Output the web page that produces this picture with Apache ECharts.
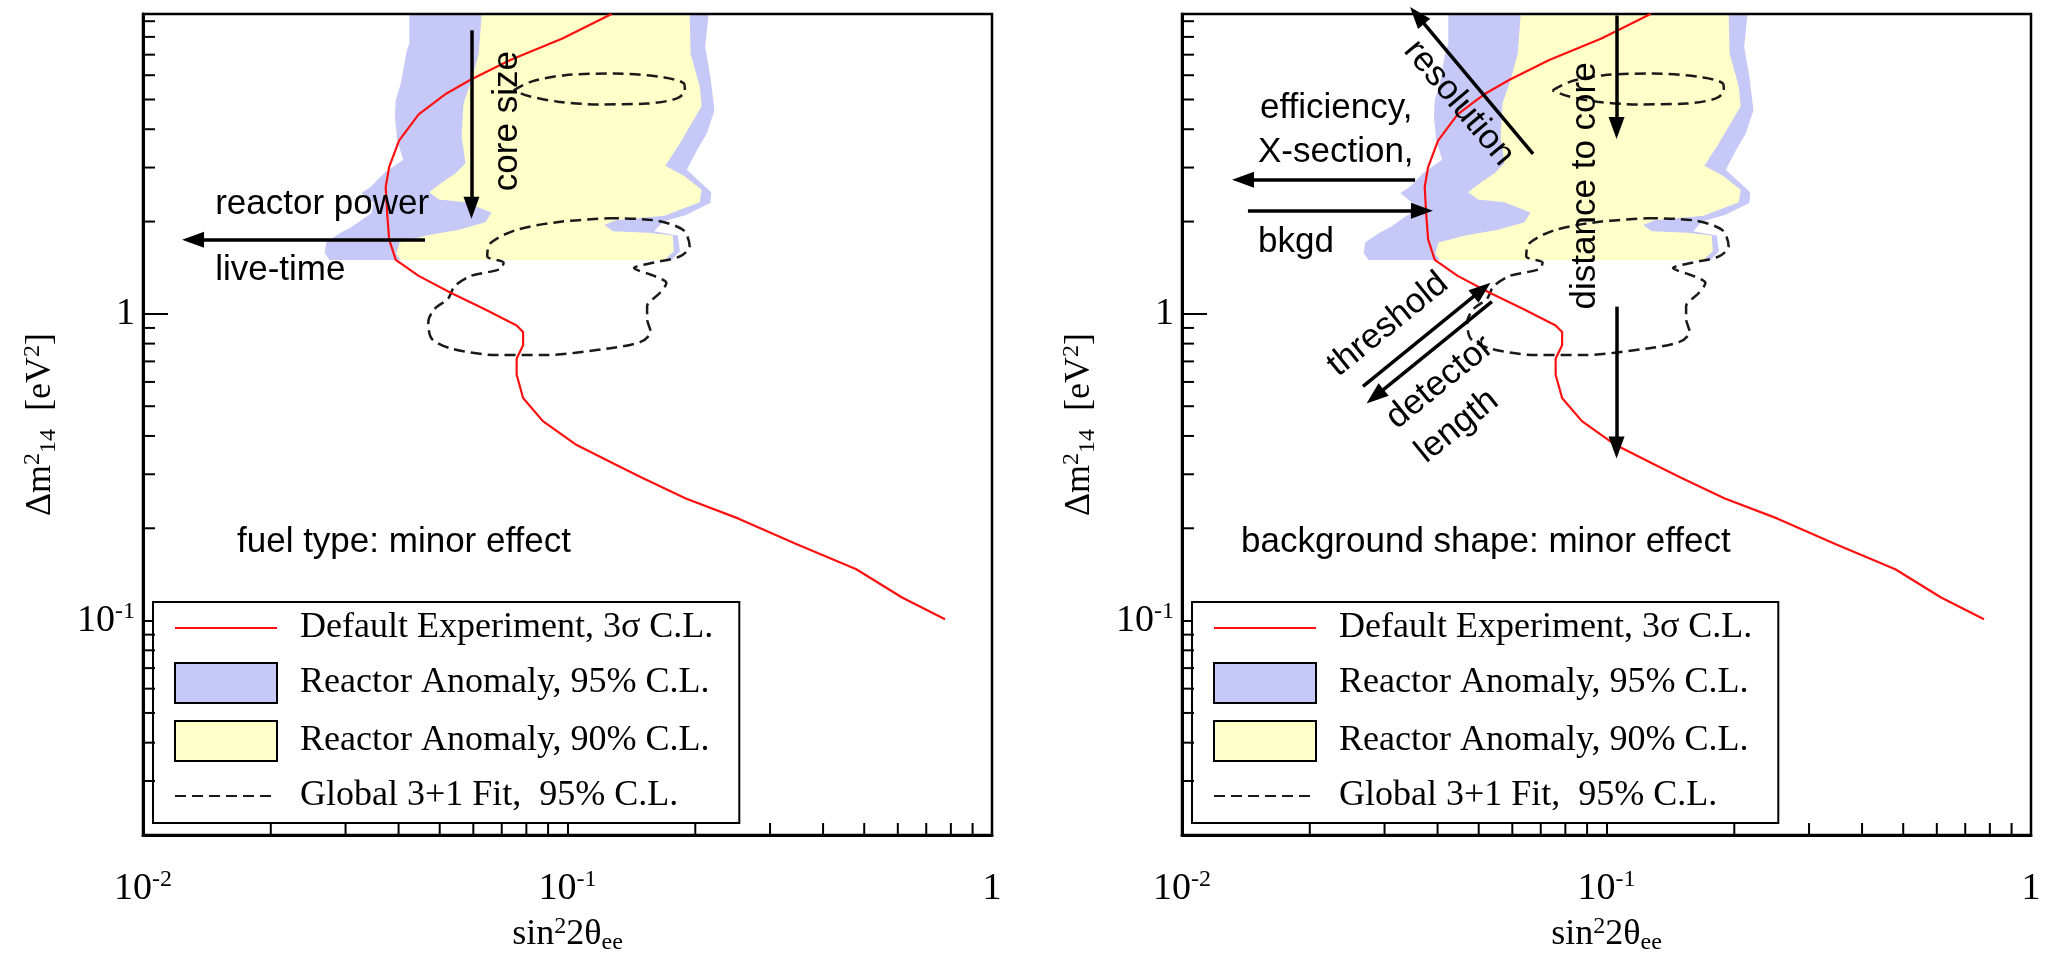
<!DOCTYPE html>
<html><head><meta charset="utf-8">
<script src="https://cdn.jsdelivr.net/npm/echarts@6/dist/echarts.min.js"></script>
<style>html,body{margin:0;padding:0;background:#fff}#c{width:2050px;height:960px}</style>
</head><body><div id="c"></div>
<script>
// ---------------- data ----------------
const X_MIN = 0.01, X_MAX = 1, Y_MIN = 0.02, Y_MAX = 9.5;
const X_MINOR = [0.02,0.03,0.04,0.05,0.06,0.07,0.08,0.09,0.2,0.3,0.4,0.5,0.6,0.7,0.8,0.9];
const Y_MINOR = [0.03,0.04,0.05,0.06,0.07,0.08,0.09,0.2,0.3,0.4,0.5,0.6,0.7,0.8,0.9,2,3,4,5,6,7,8,9];

const LEGEND_NAMES = ['Default Experiment, 3σ C.L.', 'Reactor Anomaly, 95% C.L.', 'Reactor Anomaly, 90% C.L.', 'Global 3+1 Fit,  95% C.L.'];

// Default experiment 3 sigma sensitivity curve [sin^2 2theta, dm^2]
const RED_3SIGMA = [[0.127,9.5],[0.0973,7.9],[0.0733,6.73],[0.0591,5.8],[0.0514,5.19],[0.0446,4.47],[0.0401,3.67],[0.038,3.01],[0.0373,2.59],[0.0376,2.13],[0.038,1.75],[0.0394,1.5],[0.0446,1.33],[0.0532,1.17],[0.0635,1.04],[0.0759,0.917],[0.0786,0.873],[0.0786,0.79],[0.0759,0.716],[0.0759,0.633],[0.0786,0.532],[0.0875,0.447],[0.1043,0.376],[0.129,0.324],[0.1486,0.294],[0.19,0.25],[0.253,0.215],[0.348,0.177],[0.479,0.147],[0.614,0.119],[0.775,0.101]];

// Reactor anomaly 95% C.L. region (outline)
const RA95 = [[0.0424,9.5],[0.0424,7.6],[0.0418,7.2],[0.0405,5.65],[0.0394,4.98],[0.0392,4.4],[0.0397,3.69],[0.041,3.18],[0.037,2.88],[0.0345,2.6],[0.0327,2.48],[0.0349,2.3],[0.0345,2.13],[0.031,1.92],[0.0292,1.84],[0.027,1.71],[0.0268,1.58],[0.0275,1.5],
  [0.176,1.5],[0.184,1.6],[0.182,1.8],[0.16,1.86],[0.168,2.0],[0.19,2.1],[0.217,2.3],[0.218,2.49],[0.191,2.95],[0.202,3.42],[0.213,3.88],[0.222,4.61],[0.217,5.94],[0.211,7.43],[0.215,9.5]];

// Reactor anomaly 90% C.L. region (outline)
const RA90 = [[0.0628,9.5],[0.0618,7.05],[0.0594,5.77],[0.0569,4.86],[0.0563,3.8],[0.0575,3.1],[0.0546,2.88],[0.0506,2.68],[0.0472,2.49],[0.0498,2.36],[0.0575,2.31],[0.0662,2.14],[0.0641,1.99],[0.0555,1.88],[0.0465,1.8],[0.0402,1.71],[0.0395,1.57],[0.0405,1.5],
  [0.169,1.5],[0.178,1.6],[0.177,1.8],[0.155,1.84],[0.128,1.86],[0.122,1.95],[0.13,2.02],[0.169,2.09],[0.205,2.31],[0.207,2.54],[0.188,2.82],[0.17,3.04],[0.184,3.6],[0.207,4.75],[0.205,5.5],[0.195,7.05],[0.194,9.5]];

// Global 3+1 fit 95% C.L. islands
const GLOBAL_UPPER = [[0.0746,5.35],[0.0822,5.72],[0.0986,6.0],[0.129,6.08],[0.169,5.9],[0.188,5.64],[0.189,5.35],[0.181,5.04],[0.154,4.85],[0.118,4.82],[0.095,4.92],[0.081,5.13],[0.0746,5.35]];
const GLOBAL_LOWER = [[0.1245,2.05],[0.1596,2.02],[0.187,1.88],[0.194,1.66],[0.184,1.54],[0.16,1.47],[0.1435,1.41],[0.16,1.33],[0.171,1.26],[0.165,1.17],[0.154,1.06],[0.154,0.963],[0.157,0.873],[0.1486,0.81],[0.1245,0.771],[0.0875,0.734],[0.0683,0.734],[0.0532,0.771],[0.0479,0.83],[0.047,0.94],[0.0487,1.04],[0.0523,1.12],[0.0542,1.23],[0.0592,1.33],[0.0695,1.4],[0.0707,1.47],[0.0647,1.54],[0.0658,1.7],[0.0759,1.88],[0.0973,2.0],[0.1245,2.05]];

// Annotation arrows (data coordinates: from -> to)
const ARROWS = [
  [ [[0.0594,8.41],[0.0594,2.22]], [[0.04616,1.745],[0.01312,1.745]] ],
  [ [[0.06713,3.323],[0.0358,9.4]], [[0.0354,2.735],[0.01392,2.735]], [[0.0143,2.168],[0.03675,2.168]],
    [[0.1056,9.4],[0.1056,4.04]], [[0.1056,1.056],[0.1056,0.367]],
    [[0.02669,0.58],[0.0509,1.2]], [[0.0537,1.096],[0.0285,0.538]] ]
];

// Annotation texts (data coordinates)
const ANNOTATIONS = [
  {panel:0, text:'core size', at:[0.0720,4.25], rot:90, align:'center'},
  {panel:0, text:'reactor power', at:[0.01479,2.268], rot:0, align:'left'},
  {panel:0, text:'live-time', at:[0.01479,1.383], rot:0, align:'left'},
  {panel:0, text:'fuel type: minor effect', at:[0.01665,0.1803], rot:0, align:'left'},
  {panel:1, text:'resolution', at:[0.04493,4.87], rot:-50, align:'center'},
  {panel:1, text:'efficiency,', at:[0.01527,4.69], rot:0, align:'left'},
  {panel:1, text:'X-section,', at:[0.0151,3.373], rot:0, align:'left'},
  {panel:1, text:'bkgd', at:[0.0151,1.706], rot:0, align:'left'},
  {panel:1, text:'distance to core', at:[0.089,2.615], rot:90, align:'center'},
  {panel:1, text:'threshold', at:[0.03056,0.923], rot:39, align:'center'},
  {panel:1, text:'detector', at:[0.0405,0.5977], rot:39, align:'center'},
  {panel:1, text:'length', at:[0.04444,0.43], rot:39, align:'center'},
  {panel:1, text:'background shape: minor effect', at:[0.01377,0.1803], rot:0, align:'left'}
];

// ---------------- styles ----------------
const SERIF = 'Liberation Serif', SANS = 'Liberation Sans';
const C_RED = '#ff1010', C_BLUE = '#c6c9f7', C_YEL = '#ffffc9', C_DASH = '#1a1a1a';
const GRID_LEFT = [143, 1182];
const LEGEND_LEFT = [153, 1192];

function powLabel(v) {
  const e = Math.log10(v), r = Math.round(e);
  if (Math.abs(e - r) > 1e-6) return '';
  if (r === 0) return '1';
  return '10{sup|' + r + '}';
}
const supRich = {
  sup: {fontFamily: SERIF, fontSize: 24, verticalAlign: 'top', color: '#000', lineHeight: 24},
  sub: {fontFamily: SERIF, fontSize: 24, verticalAlign: 'bottom', color: '#000', lineHeight: 24}
};

function polyRender(poly, color) {
  return function (params, api) {
    if (params.dataIndex !== 0) return null;
    const pts = poly.map(p => api.coord(p));
    return {type: 'polygon', shape: {points: pts}, style: {fill: color}, silent: true};
  };
}

const panels = [0, 1];
const series = [];
panels.forEach(p => {
  series.push({type: 'custom', name: LEGEND_NAMES[1], coordinateSystem: 'cartesian2d', xAxisIndex: p, yAxisIndex: p,
    data: RA95, renderItem: polyRender(RA95, C_BLUE), itemStyle: {color: C_BLUE}, clip: true, z: -1, silent: true});
  series.push({type: 'custom', name: LEGEND_NAMES[2], coordinateSystem: 'cartesian2d', xAxisIndex: p, yAxisIndex: p,
    data: RA90, renderItem: polyRender(RA90, C_YEL), itemStyle: {color: C_YEL}, clip: true, z: -1, silent: true});
  [GLOBAL_UPPER, GLOBAL_LOWER].forEach(g => series.push({type: 'line', name: LEGEND_NAMES[3], xAxisIndex: p, yAxisIndex: p,
    data: g, symbol: 'none', smooth: 0.3, lineStyle: {color: C_DASH, width: 2.5, type: [11, 6]}, itemStyle: {color: C_DASH}, z: 3, silent: true}));
  series.push({type: 'line', name: LEGEND_NAMES[0], xAxisIndex: p, yAxisIndex: p, data: RED_3SIGMA, symbol: 'none',
    lineStyle: {color: C_RED, width: 2.2}, itemStyle: {color: C_RED}, z: 4, silent: true,
    markLine: {silent: true, symbol: ['none', 'triangle'], symbolSize: [16, 22], label: {show: false},
      lineStyle: {color: '#000', width: 3.5, type: 'solid'}, itemStyle: {color: '#000'}, emphasis: {disabled: true},
      data: ARROWS[p].map(a => [{coord: a[0]}, {coord: a[1]}])}});
  series.push({type: 'custom', coordinateSystem: 'cartesian2d', xAxisIndex: p, yAxisIndex: p, silent: true, clip: false, z: 6,
    data: X_MINOR.map(v => [v, Y_MIN]),
    renderItem: (params, api) => { const pt = api.coord([api.value(0), api.value(1)]);
      return {type: 'line', shape: {x1: pt[0], y1: pt[1], x2: pt[0], y2: pt[1] - 12}, style: {stroke: '#000', lineWidth: 2}}; }});
  series.push({type: 'custom', coordinateSystem: 'cartesian2d', xAxisIndex: p, yAxisIndex: p, silent: true, clip: false, z: 6,
    data: Y_MINOR.map(v => [X_MIN, v]),
    renderItem: (params, api) => { const pt = api.coord([api.value(0), api.value(1)]);
      return {type: 'line', shape: {x1: pt[0], y1: pt[1], x2: pt[0] + 12, y2: pt[1]}, style: {stroke: '#000', lineWidth: 2}}; }});
});

const option = {
  animation: false,
  backgroundColor: '#fff',
  grid: panels.map(p => ({left: GRID_LEFT[p], top: 14, width: 849, height: 821, show: true,
    borderColor: '#000', borderWidth: 2.5, backgroundColor: 'transparent'})),
  xAxis: panels.map(p => ({type: 'log', logBase: 10, gridIndex: p, min: X_MIN, max: X_MAX,
    axisLine: {lineStyle: {color: '#000', width: 3}},
    axisTick: {inside: true, length: 25, lineStyle: {color: '#000', width: 2}},
    splitLine: {show: false}, minorTick: {show: false},
    axisLabel: {formatter: powLabel, margin: 33, fontFamily: SERIF, fontSize: 38, lineHeight: 42, color: '#000',
      showMinLabel: true, showMaxLabel: true, rich: supRich},
    name: 'sin{sup|2}2θ{sub|ee}', nameLocation: 'middle', nameGap: 70,
    nameTextStyle: {fontFamily: SERIF, fontSize: 36, lineHeight: 40, color: '#000', rich: supRich}})),
  yAxis: panels.map(p => ({type: 'log', logBase: 10, gridIndex: p, min: Y_MIN, max: Y_MAX,
    axisLine: {lineStyle: {color: '#000', width: 3}},
    axisTick: {inside: true, length: 25, lineStyle: {color: '#000', width: 2}},
    splitLine: {show: false}, minorTick: {show: false},
    axisLabel: {formatter: powLabel, margin: 8, fontFamily: SERIF, fontSize: 38, lineHeight: 42, color: '#000',
      showMinLabel: true, showMaxLabel: true, rich: supRich},
    name: 'Δm{sup|2}{sub|14}  [eV{sup|2}]', nameLocation: 'middle', nameGap: 82, nameRotate: 90,
    nameTextStyle: {fontFamily: SERIF, fontSize: 36, lineHeight: 40, color: '#000', rich: supRich}})),
  legend: panels.map(p => ({left: LEGEND_LEFT[p], top: 602, orient: 'vertical', selectedMode: false,
    itemWidth: 102, itemHeight: 40, itemGap: 16, padding: [8, 26, 9, 21],
    borderColor: '#000', borderWidth: 2, backgroundColor: '#fff',
    textStyle: {fontFamily: SERIF, fontSize: 36, color: '#000', padding: [0, 0, 0, 18]},
    data: [
      {name: LEGEND_NAMES[0], itemStyle: {opacity: 0}},
      {name: LEGEND_NAMES[1], icon: 'rect', itemStyle: {color: C_BLUE, borderColor: '#000', borderWidth: 2}},
      {name: LEGEND_NAMES[2], icon: 'rect', itemStyle: {color: C_YEL, borderColor: '#000', borderWidth: 2}},
      {name: LEGEND_NAMES[3], itemStyle: {opacity: 0}}
    ]})),
  series: series
};

const chart = echarts.init(document.getElementById('c'), null, {renderer: 'canvas'});
chart.setOption(option);

const graphics = ANNOTATIONS.map(a => {
  const pt = chart.convertToPixel({gridIndex: a.panel}, a.at);
  return {type: 'text', x: pt[0], y: pt[1], rotation: a.rot * Math.PI / 180, z: 20, silent: true,
    style: {text: a.text, fontFamily: SANS, fontSize: 35, fill: '#000', align: a.align, verticalAlign: 'middle'}};
});
chart.setOption({graphic: graphics});
</script></body></html>
